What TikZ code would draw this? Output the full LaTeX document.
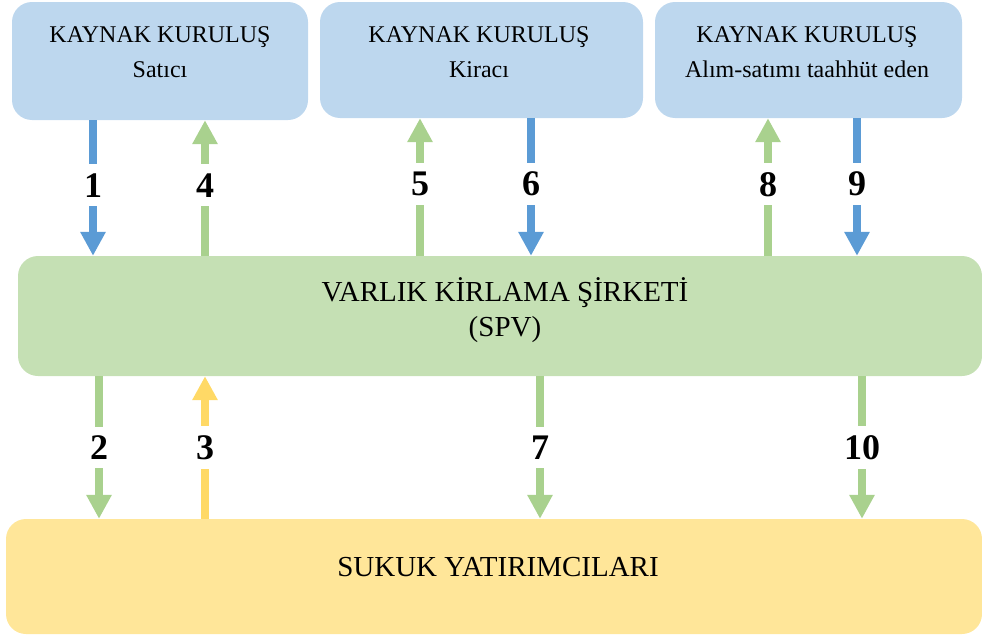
\documentclass[tikz,border=0pt]{standalone}
\usepackage{fontspec}
\setmainfont{Liberation Serif}
\usetikzlibrary{arrows.meta}

\definecolor{boxblue}{HTML}{BDD7EE}
\definecolor{boxgreen}{HTML}{C5E0B4}
\definecolor{boxyellow}{HTML}{FFE699}
\definecolor{arrblue}{HTML}{5B9BD5}
\definecolor{arrgreen}{HTML}{A9D18E}
\definecolor{arryellow}{HTML}{FFD966}

\begin{document}
\begin{tikzpicture}[x=1pt, y=-1pt,
        kbox/.style={rounded corners=20pt, inner sep=0pt},
        smalltxt/.style={align=center, font=\fontsize{24}{35}\selectfont},
        bigtxt/.style={align=center, font=\fontsize{29}{35}\selectfont},
        arr/.style={line width=8pt, -{Triangle[width=24pt,length=24pt]}},
        numlbl/.style={fill=white, inner xsep=1pt, inner ysep=9pt, font=\fontsize{36}{40}\selectfont\bfseries}]
    \useasboundingbox (0,0) rectangle (982,637);
    % boxes
    \node[kbox, fill=boxblue, minimum width=296pt, minimum height=118pt] (satici) at (160,61) {};
    \node[kbox, fill=boxblue, minimum width=323pt, minimum height=116pt] (kiraci) at (481.5,60) {};
    \node[kbox, fill=boxblue, minimum width=307pt, minimum height=116pt] (taahhut) at (808.5,60) {};
    \node[kbox, fill=boxgreen, minimum width=964pt, minimum height=120pt] (spv) at (500,316) {};
    \node[kbox, fill=boxyellow, minimum width=976pt, minimum height=115pt] (yatirimci) at (494,576.5) {};
    % texts
    \node[smalltxt] (satici-t) at (160,52) {KAYNAK KURULUŞ\\Satıcı};
    \node[smalltxt] (kiraci-t) at (479,52) {KAYNAK KURULUŞ\\Kiracı};
    \node[smalltxt] (taahhut-t) at (807,52) {KAYNAK KURULUŞ\\Alım-satımı taahhüt eden};
    \node[bigtxt] (spv-t) at (505,310) {VARLIK KİRLAMA ŞİRKETİ\\(SPV)};
    \node[bigtxt] (yatirimci-t) at (498,567) {SUKUK YATIRIMCILARI};
    % arrow columns
    \coordinate (a1) at (93,0);
    \coordinate (a4) at (205,0);
    \coordinate (a5) at (420,0);
    \coordinate (a6) at (531,0);
    \coordinate (a8) at (768,0);
    \coordinate (a9) at (857,0);
    \coordinate (a2) at (99,0);
    \coordinate (a3) at (205,0);
    \coordinate (a7) at (540,0);
    \coordinate (a10) at (862,0);
    % top arrows
    \draw[arr, draw=arrblue] (satici.south -| a1) -- (spv.north -| a1) node[numlbl, pos=0.48] (n1) {1};
    \draw[arr, draw=arrgreen] (spv.north -| a4) -- (satici.south -| a4) node[numlbl, pos=0.52] (n4) {4};
    \draw[arr, draw=arrgreen] (spv.north -| a5) -- (kiraci.south -| a5) node[numlbl, pos=0.52] (n5) {5};
    \draw[arr, draw=arrblue] (kiraci.south -| a6) -- (spv.north -| a6) node[numlbl, pos=0.48] (n6) {6};
    \draw[arr, draw=arrgreen] (spv.north -| a8) -- (taahhut.south -| a8) node[numlbl, pos=0.52] (n8) {8};
    \draw[arr, draw=arrblue] (taahhut.south -| a9) -- (spv.north -| a9) node[numlbl, pos=0.48] (n9) {9};
    % bottom arrows
    \draw[arr, draw=arrgreen] (spv.south -| a2) -- (yatirimci.north -| a2) node[numlbl, midway] (n2) {2};
    \draw[arr, draw=arryellow] (yatirimci.north -| a3) -- (spv.south -| a3) node[numlbl, midway] (n3) {3};
    \draw[arr, draw=arrgreen] (spv.south -| a7) -- (yatirimci.north -| a7) node[numlbl, midway] (n7) {7};
    \draw[arr, draw=arrgreen] (spv.south -| a10) -- (yatirimci.north -| a10) node[numlbl, midway] (n10) {10};
\end{tikzpicture}
\end{document}
